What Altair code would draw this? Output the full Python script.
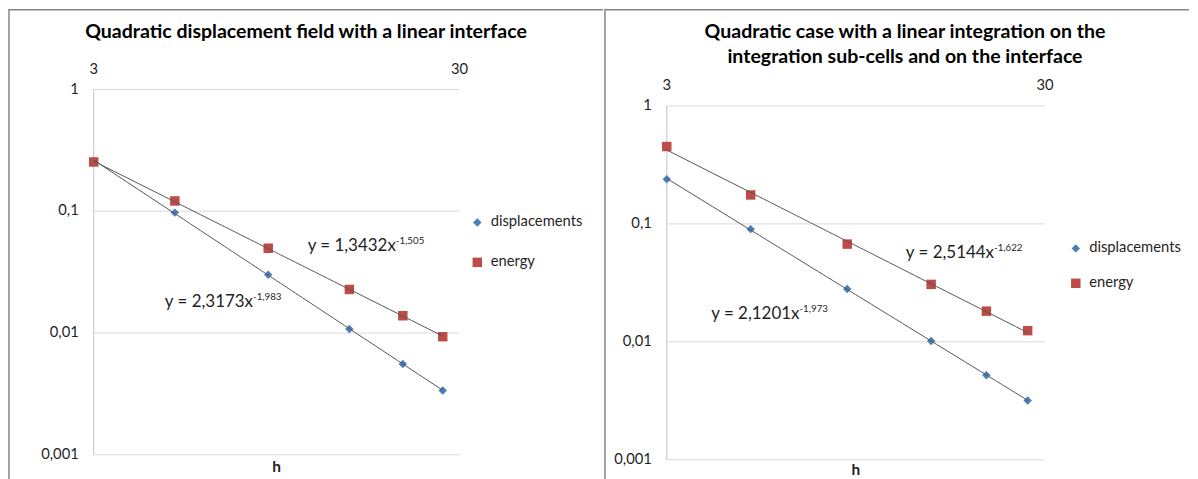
import altair as alt
import pandas as pd

# ---------------- data ----------------
h_values = [3, 5, 9, 15, 21, 27]
series_names = ["displacements", "energy"]
series_colors = ["#4A7EBB", "#BE4B48"]
series_shapes = ["diamond", "square"]
series_sizes = [72, 90]

left_displacements = [0.259, 0.0975, 0.0301, 0.0108, 0.00557, 0.00337]
left_energy = [0.254, 0.1216, 0.0497, 0.0228, 0.01387, 0.00933]
right_displacements = [0.239, 0.0903, 0.0280, 0.01017, 0.00521, 0.00318]
right_energy = [0.453, 0.176, 0.0674, 0.0307, 0.0182, 0.01244]

y_tick_values = [0.001, 0.01, 0.1, 1]
y_tick_labels = ["0,001", "0,01", "0,1", "1"]
x_tick_values = [3, 30]
x_tick_labels = ["3", "30"]
x_title = "h"

left_title = "Quadratic displacement field with a linear interface"
right_title = ["Quadratic case with a linear integration on the",
               "integration sub-cells and on the interface"]

left_eq_text = ["y = 1,3432x", "y = 2,3173x"]
left_eq_exp = ["-1,505", "-1,983"]
left_eq_h = [20.1, 8.18]
left_eq_value = [0.0472, 0.01622]

right_eq_text = ["y = 2,5144x", "y = 2,1201x"]
right_eq_exp = ["-1,622", "-1,973"]
right_eq_h = [22.0, 6.73]
right_eq_value = [0.0517, 0.0156]

FONT = "Lato"
TEXT = "#1f1f1f"
FRAME = "#858585"
H = 471
LABEL_SIZE = 14.8


def panel(disp, energy, title, eq_text, eq_exp, eq_h, eq_val, W,
          px0, px1, py_top, py_bottom, legend_x, legend_y, row_pad, title_dx, title_dy,
          h_dy):
    df = pd.DataFrame({
        "h": h_values + h_values,
        "value": disp + energy,
        "series": [s for s in series_names for _ in h_values],
    })
    eq = pd.DataFrame({"h": eq_h, "value": eq_val, "main": eq_text, "exp": eq_exp})
    yt = pd.DataFrame({"value": y_tick_values, "label": y_tick_labels})
    xt = pd.DataFrame({"h": x_tick_values, "label": x_tick_labels})
    xtitle = pd.DataFrame({"label": [x_title]})

    xs = alt.Scale(type="log", domain=[x_tick_values[0], x_tick_values[-1]],
                   range=[px0, px1], nice=False)
    ys = alt.Scale(type="log", domain=[y_tick_values[0], y_tick_values[-1]],
                   range=[py_bottom, py_top], nice=False)
    x_lo = alt.X(datum=x_tick_values[0], scale=xs, axis=None)
    # geometric middle of the log axis (where the axis title sits)
    x_mid = (x_tick_values[0] * x_tick_values[-1]) ** 0.5

    legend = alt.Legend(orient="none", legendX=legend_x, legendY=legend_y, title=None,
                        labelFont=FONT, labelFontSize=LABEL_SIZE, labelColor=TEXT,
                        symbolSize=60, symbolStrokeWidth=0, rowPadding=row_pad,
                        labelOffset=6, padding=0)

    grid = alt.Chart(yt).mark_rule(color="#d9d9d9", strokeWidth=1).encode(
        x=x_lo,
        x2=alt.X2(datum=x_tick_values[-1]),
        y=alt.Y("value:Q", scale=ys, axis=None),
    )
    y_line = alt.Chart(yt).mark_rule(color="#c4c4c4", strokeWidth=1).encode(
        x=x_lo,
        y=alt.Y("min(value):Q", scale=ys, axis=None),
        y2=alt.Y2("max(value):Q"),
    )
    y_labels = alt.Chart(yt).mark_text(
        align="right", baseline="middle", dx=-15, font=FONT, fontSize=LABEL_SIZE, color=TEXT
    ).encode(
        x=x_lo,
        y=alt.Y("value:Q", scale=ys, axis=None),
        text="label:N",
    )
    x_labels = alt.Chart(xt).mark_text(
        align="center", baseline="middle", dy=-20, font=FONT, fontSize=LABEL_SIZE, color=TEXT
    ).encode(
        x=alt.X("h:Q", scale=xs, axis=None),
        y=alt.Y(datum=y_tick_values[-1], scale=ys, axis=None),
        text="label:N",
    )
    x_axis_title = alt.Chart(xtitle).mark_text(
        align="center", baseline="middle", dy=h_dy, font=FONT, fontSize=15.5,
        fontWeight="bold", color=TEXT
    ).encode(
        x=alt.X(datum=x_mid, scale=xs, axis=None),
        y=alt.Y(datum=y_tick_values[0], scale=ys, axis=None),
        text="label:N",
    )

    points = alt.Chart(df).mark_point(filled=True, opacity=1, strokeWidth=0).encode(
        x=alt.X("h:Q", scale=xs, axis=None),
        y=alt.Y("value:Q", scale=ys, axis=None),
        color=alt.Color("series:N", scale=alt.Scale(domain=series_names, range=series_colors),
                        legend=legend),
        shape=alt.Shape("series:N", scale=alt.Scale(domain=series_names, range=series_shapes),
                        legend=legend),
        size=alt.Size("series:N", scale=alt.Scale(domain=series_names, range=series_sizes),
                      legend=None),
    )

    lines = alt.Chart(df).transform_regression(
        "h", "value", method="pow", groupby=["series"]
    ).mark_line(color="#555555", strokeWidth=1).encode(
        x=alt.X("h:Q", scale=xs, axis=None),
        y=alt.Y("value:Q", scale=ys, axis=None),
        detail="series:N",
    )

    eq_main = alt.Chart(eq).mark_text(
        align="right", baseline="alphabetic", font=FONT, fontSize=17, color=TEXT
    ).encode(
        x=alt.X("h:Q", scale=xs, axis=None),
        y=alt.Y("value:Q", scale=ys, axis=None),
        text="main:N",
    )
    eq_sup = alt.Chart(eq).mark_text(
        align="left", baseline="alphabetic", font=FONT, fontSize=9.8, color=TEXT, dy=-7
    ).encode(
        x=alt.X("h:Q", scale=xs, axis=None),
        y=alt.Y("value:Q", scale=ys, axis=None),
        text="exp:N",
    )

    return alt.layer(grid, y_line, y_labels, x_labels, x_axis_title, points, lines,
                     eq_main, eq_sup).properties(
        width=W, height=H,
        title=alt.TitleParams(text=title, anchor="middle", frame="group", orient="top",
                              offset=0, dy=title_dy, dx=title_dx, baseline="top",
                              font=FONT, fontSize=19.6, fontWeight="bold", color="#000000",
                              lineHeight=25),
        view=alt.ViewBackground(stroke=FRAME, strokeWidth=1.5,
                                strokeDash=[W, H + W, H + 10, 0]),
    )


left = panel(left_displacements, left_energy, left_title, left_eq_text, left_eq_exp,
             left_eq_h, left_eq_value, W=596, px0=85, px1=452, py_top=80, py_bottom=446.5,
             legend_x=462.5, legend_y=206, row_pad=24, title_dx=0, title_dy=33, h_dy=12.5)
right = panel(right_displacements, right_energy, right_title, right_eq_text, right_eq_exp,
              right_eq_h, right_eq_value, W=586, px0=62, px1=441.5, py_top=96.5,
              py_bottom=451.5, legend_x=465, legend_y=232, row_pad=19, title_dx=8,
              title_dy=58, h_dy=10.5)

chart = alt.hconcat(left, right, spacing=0).resolve_scale(
    x="independent", y="independent", color="independent",
    shape="independent", size="independent"
).properties(padding=0)

chart.save("out.html", embed_options={"renderer": "svg", "actions": False})
